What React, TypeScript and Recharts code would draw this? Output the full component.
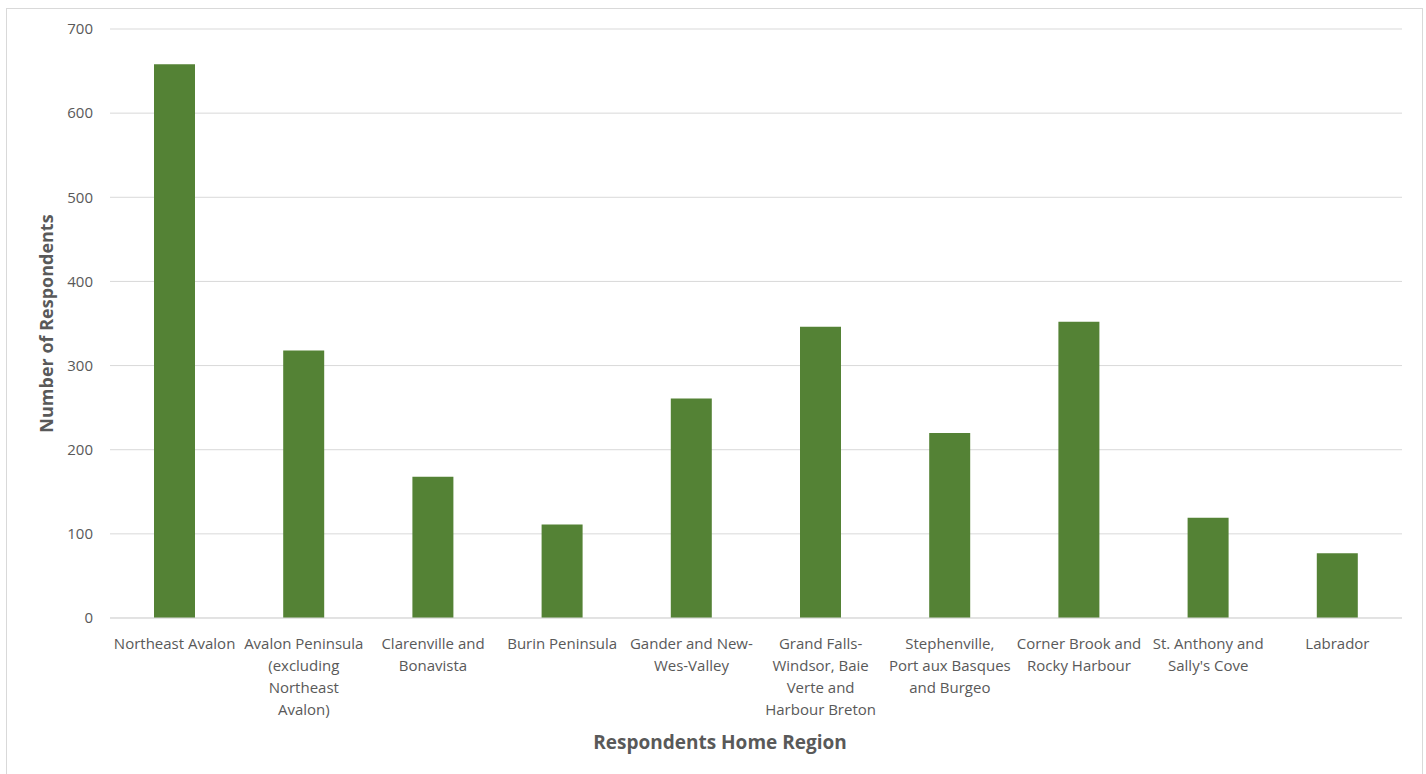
import { Bar, BarChart, CartesianGrid, XAxis, YAxis } from "recharts";

const regions = [
  "Northeast Avalon",
  "Avalon Peninsula (excluding Northeast Avalon)",
  "Clarenville and Bonavista",
  "Burin Peninsula",
  "Gander and New-Wes-Valley",
  "Grand Falls-Windsor, Baie Verte and Harbour Breton",
  "Stephenville, Port aux Basques and Burgeo",
  "Corner Brook and Rocky Harbour",
  "St. Anthony and Sally's Cove",
  "Labrador",
];

const respondents = [658, 318, 168, 111, 261, 346, 220, 352, 119, 77];

// tick labels as they wrap under each bar
const tickLabels = [
  ["Northeast Avalon"],
  ["Avalon Peninsula", "(excluding", "Northeast", "Avalon)"],
  ["Clarenville and", "Bonavista"],
  ["Burin Peninsula"],
  ["Gander and New-", "Wes-Valley"],
  ["Grand Falls-", "Windsor, Baie", "Verte and", "Harbour Breton"],
  ["Stephenville,", "Port aux Basques", "and Burgeo"],
  ["Corner Brook and", "Rocky Harbour"],
  ["St. Anthony and", "Sally's Cove"],
  ["Labrador"],
];

const yTicks = [0, 100, 200, 300, 400, 500, 600, 700];

const data = regions.map((region, i) => ({ region, count: respondents[i] }));

const FONT = "'Open Sans', sans-serif";
const TEXT = "#595959";

function RegionTick({ x, y, index }: any) {
  const lines = tickLabels[index] ?? [];
  return (
    <text x={x} y={y + 29} textAnchor="middle" fill={TEXT} fontSize={15} fontFamily={FONT}>
      {lines.map((line, i) => (
        <tspan key={i} x={x} dy={i === 0 ? 0 : 22}>
          {line}
        </tspan>
      ))}
    </text>
  );
}

export default function App() {
  return (
    <div
      style={{
        position: "fixed",
        left: 0,
        top: 0,
        width: 1426,
        height: 774,
        overflow: "hidden",
        background: "#fff",
      }}
    >
      <div
        style={{
          position: "absolute",
          left: 6,
          top: 8,
          width: 1415,
          height: 800,
          border: "1px solid #d9d9d9",
        }}
      />
      <div style={{ position: "absolute", left: 0, top: 0 }}>
        <BarChart width={1426} height={774} data={data} margin={{ top: 29, right: 24, left: 0, bottom: 0 }}>
          <CartesianGrid vertical={false} stroke="#d9d9d9" />
          <XAxis
            dataKey="region"
            height={156}
            interval={0}
            tickLine={false}
            axisLine={{ stroke: "#d9d9d9" }}
            tickSize={0}
            tick={<RegionTick />}
            label={{
              value: "Respondents Home Region",
              position: "center",
              dx: -36,
              dy: 46,
              fill: TEXT,
              fontSize: 19,
              fontWeight: 700,
              fontFamily: FONT,
            }}
          />
          <YAxis
            width={110}
            domain={[0, 700]}
            ticks={yTicks}
            tickLine={false}
            axisLine={false}
            tickSize={0}
            tickMargin={17}
            tick={{ fill: TEXT, fontSize: 15, fontFamily: FONT }}
            label={{
              value: "Number of Respondents",
              angle: -90,
              position: "center",
              dx: -8,
              fill: TEXT,
              fontSize: 18,
              fontWeight: 700,
              fontFamily: FONT,
            }}
          />
          <Bar dataKey="count" fill="#548235" barSize={41} isAnimationActive={false} />
        </BarChart>
      </div>
    </div>
  );
}
